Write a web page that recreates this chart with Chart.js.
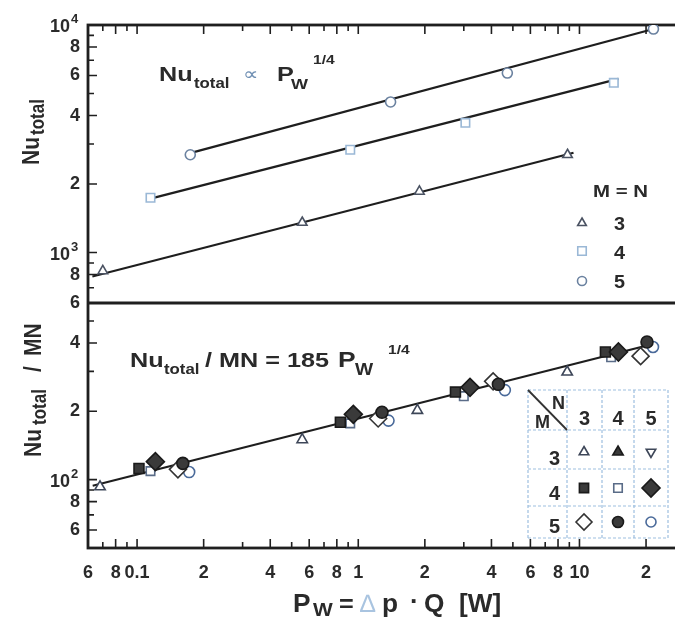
<!DOCTYPE html>
<html>
<head>
<meta charset="utf-8">
<script src="https://cdn.jsdelivr.net/npm/chart.js@4.4.0/dist/chart.umd.min.js"></script>
<style>
html, body { margin: 0; padding: 0; background: #fff; overflow: hidden; }
#wrap { width: 675px; height: 620px; overflow: hidden; position: relative; }
canvas { display: block; }
</style>
</head>
<body>
<div id="wrap"><canvas id="c" width="700" height="620"></canvas></div>
<script>
// x axis: P_W = dp * Q [W]
const xTicks = [0.06, 0.07, 0.08, 0.09, 0.1, 0.2, 0.3, 0.4, 0.5, 0.6, 0.7, 0.8, 0.9, 1, 2, 3, 4, 5, 6, 7, 8, 9, 10, 20, 30];
const xLabels = ['6', '', '8', '', '0.1', '2', '', '4', '', '6', '', '8', '', '1', '2', '', '4', '', '6', '', '8', '', '10', '2', ''];
// y axes: Nu_total (top) and Nu_total / MN (bottom)
const yTopTicks = [600, 700, 800, 900, 1000, 2000, 3000, 4000, 5000, 6000, 7000, 8000, 9000, 10000];
const yTopLabels = ['6', '', '8', '', '', '2', '', '4', '', '6', '', '8', '', ''];
const yBotTicks = [50, 60, 70, 80, 90, 100, 200, 300, 400, 500, 600];
const yBotLabels = ['', '6', '', '8', '', '', '2', '', '4', '', ''];
const powerTicks = [10000, 1000, 100];
const powerExp = ['4', '3', '2'];

// top panel, Nu_total for M = N
const pw33 = [0.070, 0.558, 1.89, 8.83];
const nu33 = [830, 1355, 1855, 2690];
const pw44 = [0.115, 0.92, 3.05, 14.3];
const nu44 = [1740, 2830, 3716, 5570];
const pw55 = [0.174, 1.40, 4.72, 21.6];
const nu55 = [2690, 4590, 6150, 9600];
// fitted lines, end points
const fitPw33 = [0.0628, 9.4];
const fitNu33 = [785, 2746];
const fitPw44 = [0.115, 15.0];
const fitNu44 = [1725, 5800];
const fitPw55 = [0.177, 21.6];
const fitNu55 = [2750, 9600];

// bottom panel, Nu_total / MN
const pwM3N3 = [0.068, 0.558, 1.85, 8.8];
const nuM3N3 = [93, 150, 202, 298];
const pwM4N3 = [0.102, 0.83, 2.75, 13.1];
const nuM4N3 = [112, 179, 243, 365];
const pwM4N4 = [0.115, 0.92, 3.0, 13.9];
const nuM4N4 = [109, 177, 233, 346];
const pwM4N5 = [0.121, 0.95, 3.2, 15.0];
const nuM4N5 = [120, 194, 255, 365];
const pwM5N3 = [0.153, 1.23, 4.07, 18.9];
const nuM5N3 = [111, 186, 271, 350];
const pwM5N4 = [0.161, 1.28, 4.3, 20.2];
const nuM5N4 = [118, 198, 263, 404];
const pwM5N5 = [0.172, 1.37, 4.6, 21.5];
const nuM5N5 = [108, 182, 248, 384];
const fitPwAll = [0.063, 21.5];
const fitNuAll = [94, 396];

const F = '"Liberation Sans", Arial, sans-serif';
const ink = '#2a2a2a';
const dark = '#3a3a3a';

function pts(xs, ys) {
    return xs.map((x, i) => ({ x: x, y: ys[i] }));
}
function marks(xs, ys, axis, style, r, fill, edge, rot) {
    return {
        data: pts(xs, ys), yAxisID: axis, order: 1,
        pointStyle: style, pointRadius: r, pointRotation: rot || 0,
        pointBackgroundColor: fill, pointBorderColor: edge, pointBorderWidth: 1.6
    };
}
function fit(xs, ys, axis) {
    return {
        data: pts(xs, ys), yAxisID: axis, order: 2, showLine: true,
        pointRadius: 0, borderColor: '#1e1e1e', borderWidth: 2.2
    };
}

// text helper, the scan is a bit stretched sideways
function put(ctx, s, x, y, size, opt) {
    opt = opt || {};
    ctx.save();
    ctx.font = (opt.normal ? '' : 'bold ') + size + 'px ' + F;
    ctx.fillStyle = opt.color || ink;
    ctx.textAlign = opt.align || 'left';
    ctx.textBaseline = 'alphabetic';
    ctx.translate(x, y);
    if (opt.rot) ctx.rotate(-Math.PI / 2);
    ctx.scale(opt.rot ? 1 : (opt.sx || 1.2), opt.rot ? 1.15 : 1);
    ctx.fillText(s, 0, 0);
    ctx.restore();
}

function symbol(ctx, style, x, y, r, fill, edge, rot) {
    ctx.save();
    ctx.fillStyle = fill;
    ctx.strokeStyle = edge;
    ctx.lineWidth = 1.6;
    Chart.helpers.drawPoint(ctx, { pointStyle: style, radius: r, rotation: rot || 0, borderWidth: 1.6 }, x, y);
    ctx.restore();
}

const framePlugin = {
    id: 'frame',
    beforeDatasetsDraw(chart) {
        const ctx = chart.ctx;
        const a = chart.chartArea;
        const xs = chart.scales.x, yt = chart.scales.yTop, yb = chart.scales.yBot;
        ctx.save();
        ctx.strokeStyle = '#1f1f1f';
        ctx.lineWidth = 1.6;
        ctx.beginPath();
        xTicks.forEach((v, i) => {
            const px = xs.getPixelForValue(v);
            const len = xLabels[i] ? 9 : 6;
            ctx.moveTo(px, a.bottom); ctx.lineTo(px, a.bottom - len);
            ctx.moveTo(px, a.top); ctx.lineTo(px, a.top + len);
        });
        yTopTicks.forEach((v, i) => {
            const py = yt.getPixelForValue(v);
            const len = (yTopLabels[i] || powerTicks.includes(v)) ? 9 : 6;
            ctx.moveTo(a.left, py); ctx.lineTo(a.left + len, py);
        });
        yBotTicks.forEach((v, i) => {
            const py = yb.getPixelForValue(v);
            const len = (yBotLabels[i] || powerTicks.includes(v)) ? 9 : 6;
            ctx.moveTo(a.left, py); ctx.lineTo(a.left + len, py);
        });
        ctx.stroke();
        ctx.lineWidth = 2.8;
        ctx.strokeRect(a.left, a.top, a.right - a.left, a.bottom - a.top);
        ctx.beginPath();
        ctx.moveTo(a.left, yt.bottom); ctx.lineTo(a.right, yt.bottom);
        ctx.stroke();
        ctx.restore();
    },
    afterDraw(chart) {
        const ctx = chart.ctx;
        const yt = chart.scales.yTop, yb = chart.scales.yBot;

        // 10^n tick labels
        powerTicks.forEach((v, i) => {
            const py = (v >= 600 ? yt : yb).getPixelForValue(v);
            put(ctx, '10', 70, py + 7, 18, { align: 'right', sx: 1 });
            put(ctx, powerExp[i], 71, py - 2, 13, { sx: 1 });
        });

        // top panel note
        put(ctx, 'Nu', 159, 81, 21);
        put(ctx, 'total', 194, 88, 14);
        put(ctx, '\u221D', 243, 80, 18, { normal: true, color: '#6f8fb3' });
        put(ctx, 'P', 277, 81, 21);
        put(ctx, 'W', 291, 89, 15);
        put(ctx, '1/4', 313, 64, 13);

        // top panel legend
        put(ctx, 'M = N', 593, 197, 17);
        symbol(ctx, 'triangle', 582, 223, 5, '#fff', '#4a5262');
        symbol(ctx, 'rect', 582, 251, 6, '#fff', '#9ab8d6');
        symbol(ctx, 'circle', 582, 281, 4.5, '#fff', '#6b82a0');
        put(ctx, '3', 614, 230, 18, { sx: 1.1 });
        put(ctx, '4', 614, 259, 18, { sx: 1.1 });
        put(ctx, '5', 614, 288, 18, { sx: 1.1 });

        // bottom panel note
        put(ctx, 'Nu', 130, 367, 21);
        put(ctx, 'total', 164, 374, 14);
        put(ctx, '/ MN = 185', 205, 367, 21);
        put(ctx, 'P', 338, 367, 22);
        put(ctx, 'W', 355, 375, 16);
        put(ctx, '1/4', 388, 354, 13);

        // axis titles
        put(ctx, 'Nu', 39, 165, 21, { rot: true });
        put(ctx, 'total', 44, 135, 17, { rot: true });
        put(ctx, 'Nu', 41, 457, 21, { rot: true });
        put(ctx, 'total', 46, 425, 17, { rot: true });
        put(ctx, '/', 41, 372, 21, { rot: true });
        put(ctx, 'MN', 41, 356, 21, { rot: true });

        put(ctx, 'P', 293, 612, 25, { sx: 1.05 });
        put(ctx, 'W', 313, 616, 19, { sx: 1.1 });
        put(ctx, '=', 339, 612, 24, { sx: 1.05 });
        put(ctx, '\u2206', 360, 612, 25, { normal: true, color: '#a9c4e0', sx: 1 });
        put(ctx, 'p', 382, 612, 25, { sx: 1.05 });
        put(ctx, '\u00B7', 410, 610, 25, { sx: 1.05 });
        put(ctx, 'Q', 424, 612, 25, { sx: 1.05 });
        put(ctx, '[W]', 459, 612, 25, { sx: 1.05 });

        // M x N symbol table
        const cols = [528, 567, 602, 634, 668];
        const rows = [390, 430, 469, 506, 538];
        ctx.save();
        ctx.strokeStyle = '#9dbfdf';
        ctx.lineWidth = 1.2;
        ctx.setLineDash([3, 2]);
        ctx.beginPath();
        cols.forEach(c => { ctx.moveTo(c, rows[0]); ctx.lineTo(c, rows[4]); });
        rows.forEach(r => { ctx.moveTo(cols[0], r); ctx.lineTo(cols[4], r); });
        ctx.stroke();
        ctx.setLineDash([]);
        ctx.strokeStyle = '#333';
        ctx.lineWidth = 1.8;
        ctx.beginPath();
        ctx.moveTo(cols[0], rows[0]); ctx.lineTo(cols[1], rows[1]);
        ctx.stroke();
        ctx.restore();
        put(ctx, 'N', 552, 409, 18, { sx: 1 });
        put(ctx, 'M', 535, 428, 18, { sx: 1 });
        ['3', '4', '5'].forEach((s, i) => {
            const cx = (cols[i + 1] + cols[i + 2]) / 2;
            put(ctx, s, cx, 425, 20, { align: 'center', sx: 1 });
            put(ctx, s, 560, [465, 500, 533][i], 20, { align: 'right', sx: 1 });
        });
        const cx = [584, 618, 651], cy = [452, 488, 522];
        symbol(ctx, 'triangle', cx[0], cy[0], 5.5, '#fff', '#3d4658');
        symbol(ctx, 'triangle', cx[1], cy[0], 6, dark, '#1a1a1a');
        symbol(ctx, 'triangle', cx[2], cy[0], 5.5, '#fff', '#3d4658', 180);
        symbol(ctx, 'rect', cx[0], cy[1], 6.5, dark, '#1a1a1a');
        symbol(ctx, 'rect', cx[1], cy[1], 6, '#fff', '#5a6c88');
        symbol(ctx, 'rectRot', cx[2], cy[1], 9, dark, '#1a1a1a');
        symbol(ctx, 'rectRot', cx[0], cy[2], 8, '#fff', '#333');
        symbol(ctx, 'circle', cx[1], cy[2], 5.5, dark, '#1a1a1a');
        symbol(ctx, 'circle', cx[2], cy[2], 5, '#fff', '#4a6a9a');
    }
};

const yScale = (ticks, labels, min, max, weight) => ({
    type: 'logarithmic', position: 'left', stack: 'panels', stackWeight: weight,
    min: min, max: max,
    grid: { display: false, drawTicks: false }, border: { display: false },
    afterBuildTicks: s => { s.ticks = ticks.map(v => ({ value: v })); },
    afterFit: s => { s.width = 88; s.paddingTop = 0; s.paddingBottom = 0; },
    ticks: {
        autoSkip: false, padding: 8, color: ink,
        font: { family: F, size: 18, weight: 'bold' },
        callback: (v, i) => labels[i]
    }
});

new Chart(document.getElementById('c'), {
    type: 'scatter',
    data: {
        datasets: [
            marks(pw33, nu33, 'yTop', 'triangle', 5.5, '#fff', '#4a5262'),
            marks(pw44, nu44, 'yTop', 'rect', 6, '#fff', '#9ab8d6'),
            marks(pw55, nu55, 'yTop', 'circle', 5, '#fff', '#6b82a0'),
            fit(fitPw33, fitNu33, 'yTop'),
            fit(fitPw44, fitNu44, 'yTop'),
            fit(fitPw55, fitNu55, 'yTop'),
            marks(pwM4N5, nuM4N5, 'yBot', 'rectRot', 9, dark, '#1a1a1a'),
            marks(pwM5N4, nuM5N4, 'yBot', 'circle', 6, dark, '#1a1a1a'),
            marks(pwM4N3, nuM4N3, 'yBot', 'rect', 7, dark, '#1a1a1a'),
            marks(pwM3N3, nuM3N3, 'yBot', 'triangle', 6, '#fff', '#3d4658'),
            marks(pwM4N4, nuM4N4, 'yBot', 'rect', 6, '#fff', '#5a6c88'),
            marks(pwM5N3, nuM5N3, 'yBot', 'rectRot', 8.5, '#fff', '#333'),
            marks(pwM5N5, nuM5N5, 'yBot', 'circle', 5.5, '#fff', '#4a6a9a'),
            fit(fitPwAll, fitNuAll, 'yBot')
        ]
    },
    options: {
        responsive: false,
        animation: false,
        events: [],
        layout: { padding: { top: 25, right: 15, left: 0, bottom: 0 } },
        plugins: { legend: { display: false }, tooltip: { enabled: false } },
        scales: {
            x: {
                type: 'logarithmic', position: 'bottom', min: 0.06, max: 30,
                grid: { display: false, drawTicks: false }, border: { display: false },
                afterBuildTicks: s => { s.ticks = xTicks.map(v => ({ value: v })); },
                afterFit: s => { s.height = 72; s.paddingLeft = 0; s.paddingRight = 0; },
                ticks: {
                    autoSkip: false, maxRotation: 0, padding: 14, color: ink,
                    font: { family: F, size: 18, weight: 'bold' },
                    callback: (v, i) => xLabels[i]
                }
            },
            yBot: yScale(yBotTicks, yBotLabels, 50, 600, 245),
            yTop: yScale(yTopTicks, yTopLabels, 600, 10000, 278)
        }
    },
    plugins: [framePlugin]
});
</script>
</body>
</html>
